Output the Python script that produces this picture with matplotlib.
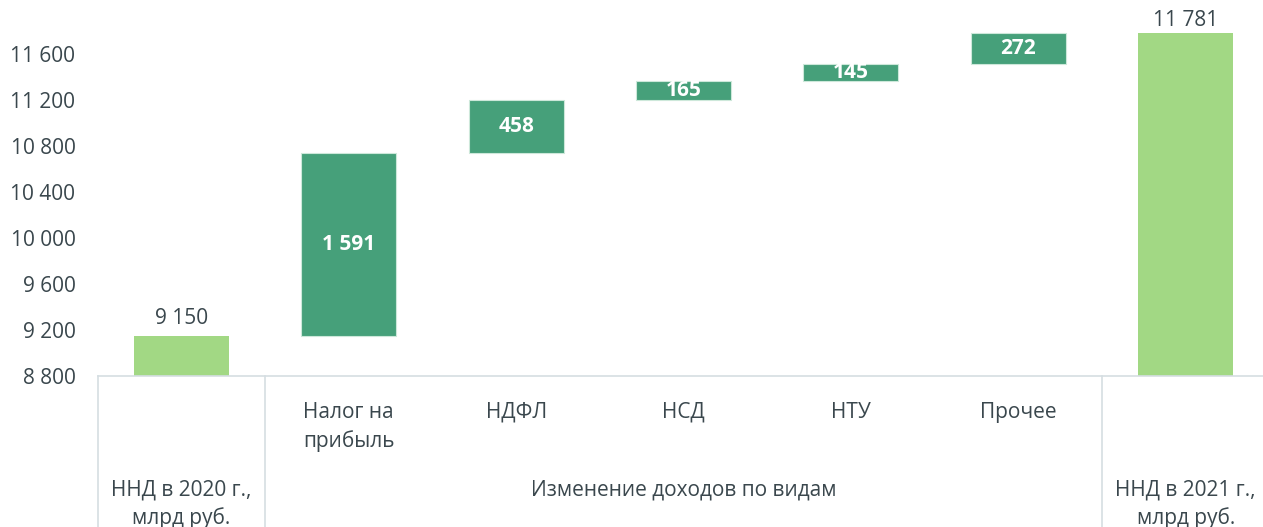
import matplotlib
matplotlib.use("Agg")
import matplotlib.pyplot as plt
from matplotlib.lines import Line2D

plt.rcParams['font.family'] = ['Open Sans', 'DejaVu Sans']

start_label = "ННД в 2020 г.,\nмлрд руб."
end_label = "ННД в 2021 г.,\nмлрд руб."
group_label = "Изменение доходов по видам"
categories = ["Налог на\nприбыль", "НДФЛ", "НСД", "НТУ", "Прочее"]
start_value = 9150
changes = [1591, 458, 165, 145, 272]
end_value = 11781
change_labels = ["1 591", "458", "165", "145", "272"]
start_text = "9 150"
end_text = "11 781"
yticks = [8800, 9200, 9600, 10000, 10400, 10800, 11200, 11600]
ytick_labels = ["8 800", "9 200", "9 600", "10 000", "10 400", "10 800", "11 200", "11 600"]

LIGHT = "#A2D884"
DARK = "#46A07A"
TXT = "#3A474D"
GRID = "#D5DEE2"
FS = 15

W, H = 1263, 527
fig = plt.figure(figsize=(W / 100, H / 100), dpi=100)
cw = 167.4
px_left = 97.6
px_right = px_left + cw * 7
px_bottom, px_top = 376, 8
ax = fig.add_axes([px_left / W, (H - px_bottom) / H, (px_right - px_left) / W, (px_bottom - px_top) / H])
ax.set_xlim(-0.5, 6.5)
ax.set_ylim(8800, 12000)
ybase = 8800
bw = 95 / cw

ax.bar(0, start_value - ybase, bottom=ybase, width=bw, color=LIGHT)
ax.text(0, start_value + 60, start_text, ha='center', va='bottom', fontsize=FS, color=TXT)

cum = start_value
for i, (c, lab) in enumerate(zip(changes, change_labels), start=1):
    ax.bar(i, c, bottom=cum, width=bw, color=DARK, edgecolor="#CDE8DA", linewidth=0.8)
    ax.text(i, cum + c / 2, lab, ha='center', va='center', fontsize=FS, color='white', fontweight='bold')
    cum += c

ax.bar(6, end_value - ybase, bottom=ybase, width=bw, color=LIGHT)
ax.text(6, end_value + 20, end_text, ha='center', va='bottom', fontsize=FS, color=TXT)

ax.set_yticks(yticks)
ax.set_yticklabels(ytick_labels, fontsize=FS, color=TXT)
ax.tick_params(axis='y', length=0, pad=16)
ax.set_xticks([])
for s in ax.spines.values():
    s.set_visible(False)

def fx(px):
    return px / W
def fy(py):
    return (H - py) / H

fig.add_artist(Line2D([fx(px_left), fx(px_right)], [fy(px_bottom), fy(px_bottom)], color=GRID, lw=1.2))
for xs in [px_left, px_left + cw, px_left + cw * 6]:
    fig.add_artist(Line2D([fx(xs), fx(xs)], [fy(px_bottom), 0], color=GRID, lw=1.2))

for i, cat in enumerate(categories, start=1):
    cx = px_left + cw * (i + 0.5)
    fig.text(fx(cx), fy(402), cat, ha='center', va='top', fontsize=FS, color=TXT, linespacing=1.42)

fig.text(fx(px_left + cw / 2), fy(479), start_label, ha='center', va='top', fontsize=FS, color=TXT, linespacing=1.42)
fig.text(fx(px_left + cw * 6.5), fy(479), end_label, ha='center', va='top', fontsize=FS, color=TXT, linespacing=1.42)
fig.text(fx((px_left + cw + px_left + cw * 6) / 2), fy(479), group_label, ha='center', va='top', fontsize=FS, color=TXT)

fig.savefig("out.png", dpi=100, facecolor='white')
